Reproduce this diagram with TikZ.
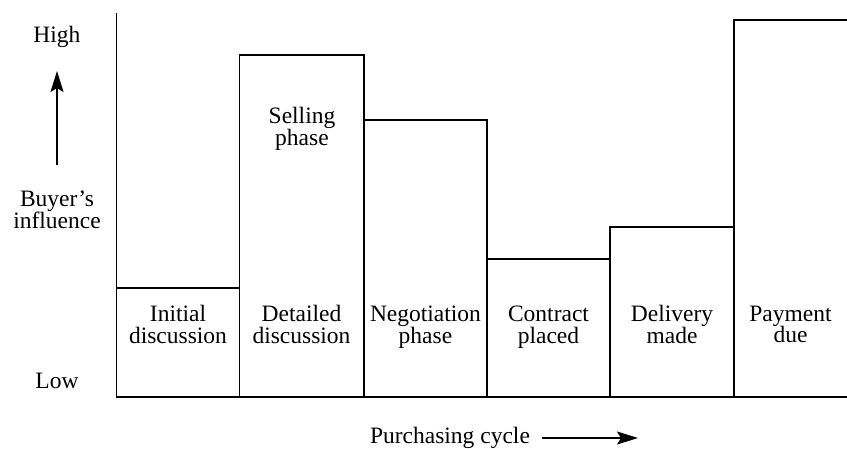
\documentclass[tikz,border=0pt]{standalone}
\usepackage{fontspec}
\setmainfont{Liberation Serif}
\usetikzlibrary{arrows.meta}
% fixed line extents so that every two-line label centres alike
\newcommand\firstln[1]{\vphantom{I}#1}
\newcommand\lastln[1]{#1\vphantom{p}}
\begin{document}
\begin{tikzpicture}[x=1pt,y=-1pt,
  bar/.style={line width=1.8pt,line join=miter},
  lbl/.style={align=center,inner sep=0pt,font=\fontsize{23.5}{21.5}\selectfont},
  axis/.style={line width=1.8pt},
  pointer/.style={line width=1.4pt,-{Stealth[length=21pt,width=13pt,inset=4pt]}}]
\useasboundingbox (0,0) rectangle (847,448);
% axes
\draw[axis] (116.5,13) -- (116.5,397) -- (847,397);
% influence steps for each stage of the cycle
\draw[bar] (116.5,288) -- (239.5,288) -- (239.5,397);
\draw[bar] (239.5,288) -- (239.5,55) -- (364,55) -- (364,397);
\draw[bar] (364,120) -- (487,120) -- (487,397);
\draw[bar] (487,397) -- (487,259) -- (610,259) -- (610,397);
\draw[bar] (610,259) -- (610,227) -- (734,227) -- (734,397);
\draw[bar] (734,227) -- (734,20) -- (847,20);
% stage labels
\node[lbl] (s1) at (178,327) {\firstln{Initial}\\\lastln{discussion}};
\node[lbl] (s2) at (301.5,327) {\firstln{Detailed}\\\lastln{discussion}};
\node[lbl] (s3) at (425.5,327) {\firstln{Negotiation}\\\lastln{phase}};
\node[lbl] (s4) at (548.5,327) {\firstln{Contract}\\\lastln{placed}};
\node[lbl] (s5) at (672,327) {\firstln{Delivery}\\\lastln{made}};
\node[lbl] (s6) at (790.5,327) {\firstln{Payment}\\\lastln{due}};
\node[lbl] (sell) at (302,129) {\firstln{Selling}\\\lastln{phase}};
% vertical scale
\node[lbl,anchor=base] (high) at (57,42) {High};
\node[lbl] (infl) at (57,212) {\firstln{Buyer’s}\\\lastln{influence}};
\node[lbl,anchor=base] (low) at (57,388) {Low};
\coordinate (upt) at (57,165);
\coordinate (uph) at (57,71);
\draw[pointer] (upt) -- (uph);
% horizontal caption
\node[lbl,anchor=base] (cyc) at (450,443) {Purchasing cycle};
\coordinate (rt) at (542,438);
\coordinate (rh) at (638,438);
\draw[pointer] (rt) -- (rh);
\end{tikzpicture}
\end{document}
